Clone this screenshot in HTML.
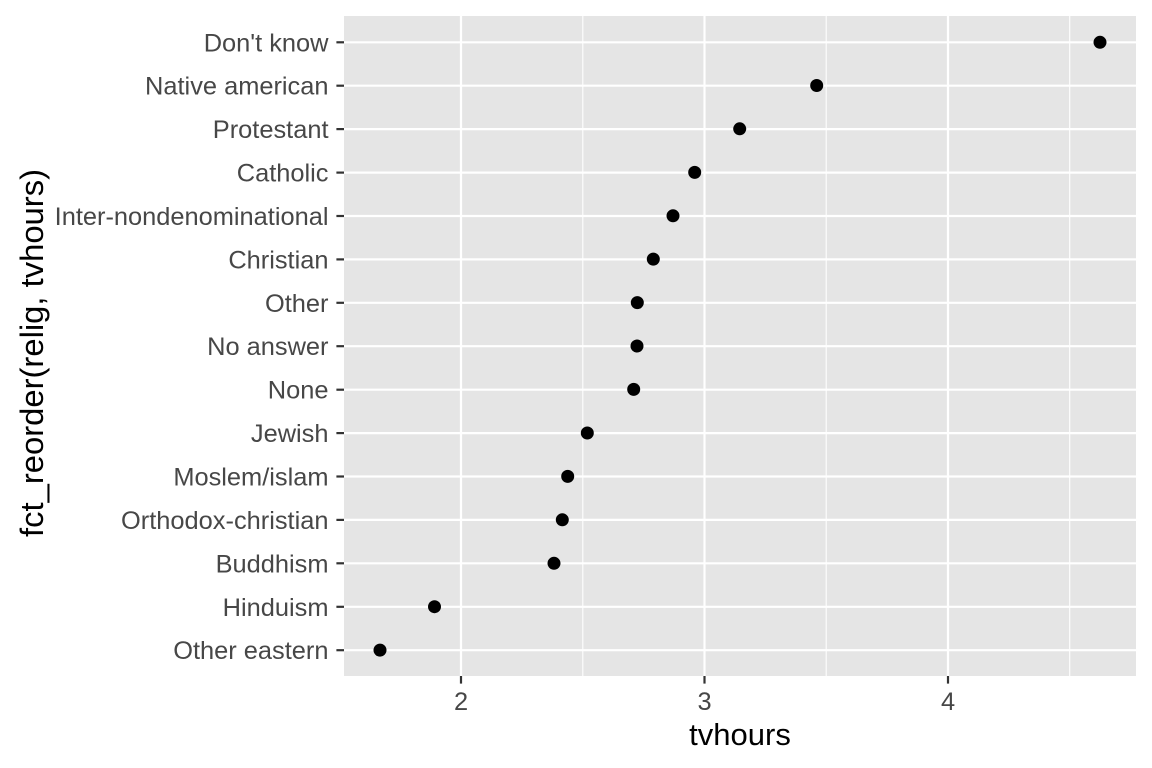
<!DOCTYPE html>
<html>
<head>
<meta charset="utf-8">
<style>
html,body{margin:0;padding:0;background:#fff;}
svg{display:block;}
</style>
</head>
<body>
<svg width="1152" height="768" viewBox="0 0 1152 768" xmlns="http://www.w3.org/2000/svg">
<rect x="0" y="0" width="1152" height="768" fill="#ffffff"/>
<!-- panel -->
<rect x="344" y="16" width="792" height="660" fill="#E5E5E5"/>
<!-- minor vertical grid -->
<g stroke="#ffffff" stroke-width="1.1">
<line x1="582.8" y1="16" x2="582.8" y2="676"/>
<line x1="826.2" y1="16" x2="826.2" y2="676"/>
<line x1="1069.7" y1="16" x2="1069.7" y2="676"/>
</g>
<!-- major grid -->
<g stroke="#ffffff" stroke-width="2.2">
<line x1="461" y1="16" x2="461" y2="676"/>
<line x1="704.5" y1="16" x2="704.5" y2="676"/>
<line x1="948" y1="16" x2="948" y2="676"/>
<line x1="344" y1="42.3" x2="1136" y2="42.3"/>
<line x1="344" y1="85.7" x2="1136" y2="85.7"/>
<line x1="344" y1="129.1" x2="1136" y2="129.1"/>
<line x1="344" y1="172.6" x2="1136" y2="172.6"/>
<line x1="344" y1="216" x2="1136" y2="216"/>
<line x1="344" y1="259.4" x2="1136" y2="259.4"/>
<line x1="344" y1="302.8" x2="1136" y2="302.8"/>
<line x1="344" y1="346.2" x2="1136" y2="346.2"/>
<line x1="344" y1="389.7" x2="1136" y2="389.7"/>
<line x1="344" y1="433.1" x2="1136" y2="433.1"/>
<line x1="344" y1="476.5" x2="1136" y2="476.5"/>
<line x1="344" y1="519.9" x2="1136" y2="519.9"/>
<line x1="344" y1="563.3" x2="1136" y2="563.3"/>
<line x1="344" y1="606.8" x2="1136" y2="606.8"/>
<line x1="344" y1="650.2" x2="1136" y2="650.2"/>
</g>
<!-- points -->
<g fill="#000000">
<circle cx="1100" cy="42.3" r="6.5"/>
<circle cx="816.7" cy="85.5" r="6.5"/>
<circle cx="739.7" cy="128.8" r="6.5"/>
<circle cx="694.7" cy="172.4" r="6.5"/>
<circle cx="673" cy="215.8" r="6.5"/>
<circle cx="653.3" cy="259.1" r="6.5"/>
<circle cx="637.3" cy="302.6" r="6.5"/>
<circle cx="637" cy="346" r="6.5"/>
<circle cx="633.7" cy="389.4" r="6.5"/>
<circle cx="587.3" cy="433" r="6.5"/>
<circle cx="567.7" cy="476.4" r="6.5"/>
<circle cx="562.3" cy="519.8" r="6.5"/>
<circle cx="554" cy="563.3" r="6.5"/>
<circle cx="434.5" cy="606.7" r="6.5"/>
<circle cx="380" cy="650.1" r="6.5"/>
</g>
<!-- ticks -->
<g stroke="#333333" stroke-width="2.2">
<line x1="336.4" y1="42.3" x2="344" y2="42.3"/>
<line x1="336.4" y1="85.7" x2="344" y2="85.7"/>
<line x1="336.4" y1="129.1" x2="344" y2="129.1"/>
<line x1="336.4" y1="172.6" x2="344" y2="172.6"/>
<line x1="336.4" y1="216" x2="344" y2="216"/>
<line x1="336.4" y1="259.4" x2="344" y2="259.4"/>
<line x1="336.4" y1="302.8" x2="344" y2="302.8"/>
<line x1="336.4" y1="346.2" x2="344" y2="346.2"/>
<line x1="336.4" y1="389.7" x2="344" y2="389.7"/>
<line x1="336.4" y1="433.1" x2="344" y2="433.1"/>
<line x1="336.4" y1="476.5" x2="344" y2="476.5"/>
<line x1="336.4" y1="519.9" x2="344" y2="519.9"/>
<line x1="336.4" y1="563.3" x2="344" y2="563.3"/>
<line x1="336.4" y1="606.8" x2="344" y2="606.8"/>
<line x1="336.4" y1="650.2" x2="344" y2="650.2"/>
<line x1="461" y1="676" x2="461" y2="683.6"/>
<line x1="704.5" y1="676" x2="704.5" y2="683.6"/>
<line x1="948" y1="676" x2="948" y2="683.6"/>
</g>
<!-- y tick labels -->
<g font-family="Liberation Sans, Arial, sans-serif" font-size="25.4" fill="#474747" text-anchor="end">
<text x="328.5" y="51.3">Don't know</text>
<text x="328.5" y="94.7">Native american</text>
<text x="328.5" y="138.1">Protestant</text>
<text x="328.5" y="181.6">Catholic</text>
<text x="328.5" y="225">Inter-nondenominational</text>
<text x="328.5" y="268.4">Christian</text>
<text x="328.5" y="311.8">Other</text>
<text x="328.5" y="355.2">No answer</text>
<text x="328.5" y="398.7">None</text>
<text x="328.5" y="442.1">Jewish</text>
<text x="328.5" y="485.5">Moslem/islam</text>
<text x="328.5" y="528.9">Orthodox-christian</text>
<text x="328.5" y="572.3">Buddhism</text>
<text x="328.5" y="615.8">Hinduism</text>
<text x="328.5" y="659.2">Other eastern</text>
</g>
<!-- x tick labels -->
<g font-family="Liberation Sans, Arial, sans-serif" font-size="25.4" fill="#474747" text-anchor="middle">
<text x="461" y="710">2</text>
<text x="704.5" y="710">3</text>
<text x="948" y="710">4</text>
</g>
<!-- axis titles -->
<text x="740" y="745" font-family="Liberation Sans, Arial, sans-serif" font-size="31" fill="#000000" text-anchor="middle">tvhours</text>
<text transform="translate(43,353) rotate(-90)" font-family="Liberation Sans, Arial, sans-serif" font-size="32" fill="#000000" text-anchor="middle" textLength="368" lengthAdjust="spacingAndGlyphs">fct_reorder(relig, tvhours)</text>
</svg>
</body>
</html>
